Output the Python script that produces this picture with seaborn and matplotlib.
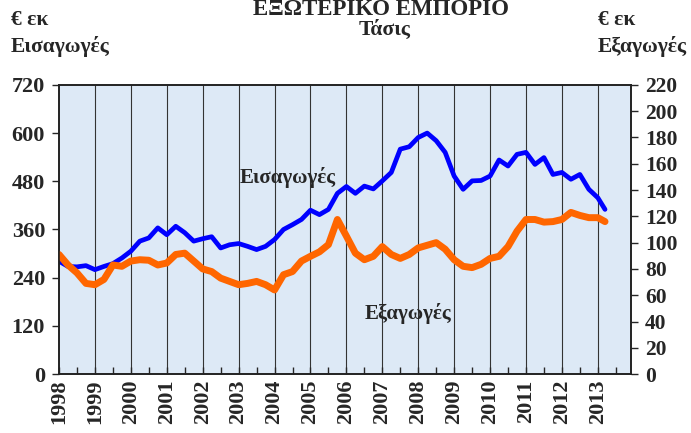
import matplotlib
matplotlib.use("Agg")
import matplotlib.pyplot as plt
import matplotlib.ticker as mticker
import pandas as pd
import seaborn as sns

# quarterly points, decimal years
t = [1998 + 0.25 * i for i in range(61)] + [2013.2]

imports = [281, 268, 267, 270, 260, 268, 275, 289,
           306, 331, 339, 364, 347, 368, 352, 331,
           337, 342, 314, 322, 325, 318, 310, 318,
           335, 360, 372, 385, 408, 397, 410, 450,
           467, 450, 468, 461, 481, 502, 560, 566,
           589, 600, 581, 552, 493, 460, 481, 482,
           493, 533, 518, 547, 552, 522, 539, 497,
           502, 485, 497, 460, 439, 410]

exports = [91, 83, 77, 69, 68, 72, 83, 82,
           86, 87, 86.6, 83, 84.5, 91, 92, 86,
           80, 78, 73, 70.5, 68, 69, 70.5, 68,
           64, 75.6, 78, 86, 89.6, 93, 98.5, 117.6,
           105, 92, 87, 89.6, 97, 91, 88, 91,
           96, 98, 100, 95, 87, 82, 81, 83.5,
           88, 89.6, 97, 108.7, 117.6, 117.6, 115.6, 116,
           117.6, 123, 120.7, 119, 119, 116]

years = list(range(1998, 2014))
left_ticks = [0, 120, 240, 360, 480, 600, 720]
right_ticks = list(range(0, 221, 20))

df = pd.DataFrame({"t": t, "imports": imports, "exports": exports})

sns.set_style("white")
plt.rcParams["font.family"] = ["Liberation Serif", "DejaVu Serif"]
plt.rcParams["font.weight"] = "bold"

fig = plt.figure(figsize=(6.91, 4.33), dpi=100)
ax = fig.add_axes([0.0854, 0.136, 0.8276, 0.668])
ax.set_facecolor("#dde9f6")
ax2 = ax.twinx()

sns.lineplot(data=df, x="t", y="imports", ax=ax, color="#0000ff", linewidth=3.4)
sns.lineplot(data=df, x="t", y="exports", ax=ax2, color="#ff6600", linewidth=5)

ax.set_xlim(1998, 2013.92)
ax.set_ylim(0, 720)
ax2.set_ylim(0, 220)
ax.set_yticks(left_ticks)
ax2.set_yticks(right_ticks)
ax.set_xticks(years)
ax.xaxis.set_minor_locator(mticker.MultipleLocator(0.5))
ax.set_xticklabels([str(y) for y in years], rotation=90, fontsize=16, fontweight="bold")
ax.set_xlabel("")
ax.set_ylabel("")
ax2.set_ylabel("")

for y in years[1:]:
    ax.axvline(y, color="#333333", linewidth=0.8, zorder=0)

for a in (ax, ax2):
    for s in a.spines.values():
        s.set_color("#222222")
        s.set_linewidth(1.2)
ax.tick_params(axis="y", direction="out", length=5, width=1, labelsize=16, pad=5)
ax2.tick_params(axis="y", direction="out", length=5, width=1, labelsize=15.5, pad=5)
ax.tick_params(axis="x", which="major", direction="in", length=5, width=1, pad=4)
ax.tick_params(axis="x", which="minor", direction="in", length=5, width=1)
ax.tick_params(axis="x", which="both", bottom=True, top=False)
for lab in ax.get_yticklabels() + ax2.get_yticklabels():
    lab.set_fontweight("bold")

ax.text(0.40, 0.68, "Εισαγωγές", transform=ax.transAxes, fontsize=15,
        fontweight="bold", ha="center", va="center")
ax2.text(0.61, 0.21, "Εξαγωγές", transform=ax.transAxes, fontsize=15,
         fontweight="bold", ha="center", va="center")

fig.text(0.552, 0.966, "ΕΞΩΤΕΡΙΚΟ ΕΜΠΟΡΙΟ", ha="center", va="baseline",
         fontsize=16.5, fontweight="bold")
fig.text(0.557, 0.93, "Τάσις", ha="center", va="center", fontsize=15.5, fontweight="bold")
fig.text(0.016, 0.953, "€ εκ", ha="left", va="center", fontsize=15.5, fontweight="bold")
fig.text(0.016, 0.893, "Εισαγωγές", ha="left", va="center", fontsize=15.5, fontweight="bold")
fig.text(0.865, 0.953, "€ εκ", ha="left", va="center", fontsize=15.5, fontweight="bold")
fig.text(0.865, 0.893, "Εξαγωγές", ha="left", va="center", fontsize=15.5, fontweight="bold")

fig.savefig("out.png", dpi=100)
